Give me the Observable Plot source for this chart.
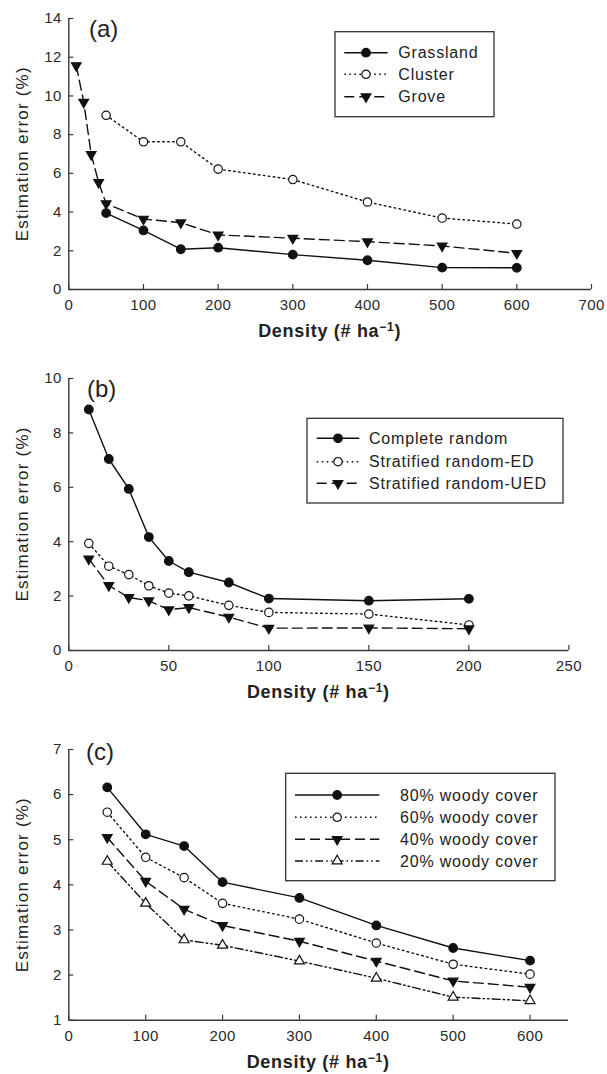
<!DOCTYPE html>
<html><head><meta charset="utf-8">
<script src="https://cdn.jsdelivr.net/npm/d3@7"></script>
<script src="https://cdn.jsdelivr.net/npm/@observablehq/plot@0.6"></script>
<style>
html,body{margin:0;padding:0;background:#fff;}
#fig{position:relative;width:607px;height:1074px;overflow:hidden;background:#fff;font-family:"Liberation Sans",Arial,Helvetica,sans-serif;}
#fig svg.panel{position:absolute;left:0;}
#overlay{position:absolute;left:0;top:0;}
</style></head><body><div id="fig"></div>
<script>
// ---------- data ----------
// Panel (a)
const densA = [50, 100, 150, 200, 300, 400, 500, 600];
const grassland = [3.95, 3.05, 2.08, 2.16, 1.80, 1.51, 1.13, 1.12];
const cluster = [9.0, 7.63, 7.63, 6.22, 5.68, 4.52, 3.69, 3.38];
const densGrove = [10, 20, 30, 40, 50, 100, 150, 200, 300, 400, 500, 600];
const grove = [11.57, 9.68, 6.98, 5.53, 4.44, 3.64, 3.45, 2.82, 2.65, 2.47, 2.25, 1.87];
const xTicksA = [0, 100, 200, 300, 400, 500, 600, 700];
const yTicksA = [0, 2, 4, 6, 8, 10, 12, 14];
const labelsA = ["Grassland", "Cluster", "Grove"];

// Panel (b)
const densB = [10, 20, 30, 40, 50, 60, 80, 100, 150, 200];
const completeRandom = [8.86, 7.04, 5.94, 4.17, 3.29, 2.88, 2.50, 1.91, 1.83, 1.90];
const stratifiedED = [3.94, 3.10, 2.79, 2.38, 2.11, 2.01, 1.66, 1.40, 1.34, 0.94];
const stratifiedUED = [3.37, 2.39, 1.95, 1.83, 1.50, 1.58, 1.23, 0.82, 0.83, 0.80];
const xTicksB = [0, 50, 100, 150, 200, 250];
const yTicksB = [0, 2, 4, 6, 8, 10];
const labelsB = ["Complete random", "Stratified random-ED", "Stratified random-UED"];

// Panel (c)
const densC = [50, 100, 150, 200, 300, 400, 500, 600];
const cover80 = [6.16, 5.12, 4.86, 4.06, 3.71, 3.10, 2.60, 2.32];
const cover60 = [5.61, 4.61, 4.16, 3.59, 3.24, 2.71, 2.24, 2.02];
const cover40 = [5.05, 4.08, 3.46, 3.10, 2.75, 2.31, 1.87, 1.73];
const cover20 = [4.52, 3.59, 2.78, 2.66, 2.31, 1.93, 1.51, 1.43];
const xTicksC = [0, 100, 200, 300, 400, 500, 600];
const yTicksC = [1, 2, 3, 4, 5, 6, 7];
const labelsC = ["80% woody cover", "60% woody cover", "40% woody cover", "20% woody cover"];

const yTitle = "Estimation error (%)";
const xTitleMain = "Density (# ha";
const xTitleSup = "\u22121";
const panelTags = ["(a)", "(b)", "(c)"];

// ---------- styling ----------
const INK = "#111";
const AX = "#3a3a3a";
const FONT = '"Liberation Sans", Arial, Helvetica, sans-serif';

const triDown = {draw(ctx, size) {
  const s = Math.sqrt(size * 4 / Math.sqrt(3)), h = s * Math.sqrt(3) / 2;
  ctx.moveTo(0, h * 2 / 3); ctx.lineTo(s / 2, -h / 3); ctx.lineTo(-s / 2, -h / 3); ctx.closePath();
}};
const triUp = {draw(ctx, size) {
  const s = Math.sqrt(size * 4 / Math.sqrt(3)), h = s * Math.sqrt(3) / 2;
  ctx.moveTo(0, -h * 2 / 3); ctx.lineTo(s / 2, h / 3); ctx.lineTo(-s / 2, h / 3); ctx.closePath();
}};

const STY = {
  solidDot: {dash: null, symbol: "circle", fill: INK, r: 4.3},
  dotOpen: {dash: "1.6,3.4", symbol: "circle", fill: "#fff", r: 4.2},
  dashTri: {dash: "10,5", symbol: triDown, fill: INK, r: 3.6},
  dashDotTri: {dash: "8,3,1.6,3,1.6,3", symbol: triUp, fill: "#fff", r: 3.7}
};

const fig = document.getElementById("fig");

function panel({series, xDomain, xTicks, yDomain, yTicks, plotTop, plotBottom, plotRight}) {
  const mt = 20, mb = 30, ml = 68.3;
  const plotH = plotBottom - plotTop, plotW = plotRight - ml;
  const marks = [];
  for (const s of series) {
    const rows = s.x.map((x, i) => ({x, y: s.y[i]}));
    marks.push(Plot.line(rows, {x: "x", y: "y", stroke: INK, strokeWidth: 1.4, strokeDasharray: s.st.dash}));
  }
  for (const s of series) {
    const rows = s.x.map((x, i) => ({x, y: s.y[i]}));
    marks.push(Plot.dot(rows, {x: "x", y: "y", symbol: s.st.symbol, r: s.st.r, fill: s.st.fill, stroke: INK, strokeWidth: 1.2}));
  }
  const svg = Plot.plot({
    width: 607, height: mt + plotH + mb,
    marginTop: mt, marginBottom: mb, marginLeft: ml, marginRight: 607 - plotRight,
    style: `font-family:${FONT};font-size:15px;letter-spacing:0.4px;color:#2a2a2a;background:transparent;overflow:visible;`,
    x: {domain: xDomain, label: null},
    y: {domain: yDomain, label: null},
    marks: [
      Plot.axisX(xTicks, {tickSize: 0, tickPadding: 10.3, label: null}),
      Plot.axisY(yTicks, {tickSize: 0, tickPadding: 7, label: null}),
      Plot.tickX(xTicks, {x: d => d, insetTop: plotH - 5, stroke: AX, strokeWidth: 1.2}),
      Plot.tickY(yTicks, {y: d => d, insetRight: plotW - 5, stroke: AX, strokeWidth: 1.2}),
      Plot.ruleX([xDomain[0]], {stroke: AX, strokeWidth: 1.4}),
      Plot.ruleY([yDomain[0]], {stroke: AX, strokeWidth: 1.4}),
      ...marks
    ]
  });
  svg.classList.add("panel");
  svg.style.position = "absolute";
  svg.style.top = (plotTop - mt) + "px";
  fig.appendChild(svg);
}

panel({
  series: [
    {x: densA, y: grassland, st: STY.solidDot},
    {x: densA, y: cluster, st: STY.dotOpen},
    {x: densGrove, y: grove, st: STY.dashTri}
  ],
  xDomain: [0, 700], xTicks: xTicksA, yDomain: [0, 14], yTicks: yTicksA,
  plotTop: 18.3, plotBottom: 289.3, plotRight: 591
});
panel({
  series: [
    {x: densB, y: completeRandom, st: STY.solidDot},
    {x: densB, y: stratifiedED, st: STY.dotOpen},
    {x: densB, y: stratifiedUED, st: STY.dashTri}
  ],
  xDomain: [0, 250], xTicks: xTicksB, yDomain: [0, 10], yTicks: yTicksB,
  plotTop: 378, plotBottom: 650, plotRight: 568.4
});
panel({
  series: [
    {x: densC, y: cover80, st: STY.solidDot},
    {x: densC, y: cover60, st: STY.dotOpen},
    {x: densC, y: cover40, st: STY.dashTri},
    {x: densC, y: cover20, st: STY.dashDotTri}
  ],
  xDomain: [0, 650], xTicks: xTicksC, yDomain: [1, 7], yTicks: yTicksC,
  plotTop: 749.3, plotBottom: 1020, plotRight: 568
});

// ---------- overlay: titles, tags, legends ----------
const ov = d3.select(fig).append("svg").attr("id", "overlay")
  .attr("width", 607).attr("height", 1074)
  .style("font-family", FONT);

const panelsGeom = [
  {top: 18.3, bottom: 289.3, right: 591, tagX: 89, tagY: 37},
  {top: 378, bottom: 650, right: 568.4, tagX: 87, tagY: 397},
  {top: 749.3, bottom: 1020, right: 568, tagX: 86, tagY: 760}
];
panelsGeom.forEach((g, i) => {
  const cy = (g.top + g.bottom) / 2;
  ov.append("text").attr("transform", `translate(22,${cy}) rotate(-90)`)
    .attr("text-anchor", "middle").attr("dy", "0.36em")
    .attr("font-size", 17).attr("letter-spacing", "1.2px").attr("fill", "#222")
    .text(yTitle);
  const t = ov.append("text").attr("x", (68.3 + g.right) / 2).attr("y", g.bottom + 48)
    .attr("text-anchor", "middle").attr("font-size", 18).attr("font-weight", "bold")
    .attr("letter-spacing", "0.7px").attr("fill", "#222");
  t.append("tspan").text(xTitleMain);
  t.append("tspan").attr("dy", -6).attr("font-size", 12).text(xTitleSup);
  t.append("tspan").attr("dy", 6).text(")");
  ov.append("text").attr("x", g.tagX).attr("y", g.tagY).attr("font-size", 24)
    .attr("fill", "#222").text(panelTags[i]);
});

function legend({box, rows, sx, textX, labels, styles}) {
  ov.append("rect").attr("x", box[0]).attr("y", box[1])
    .attr("width", box[2] - box[0]).attr("height", box[3] - box[1])
    .attr("fill", "#fff").attr("stroke", "#333").attr("stroke-width", 1.3);
  labels.forEach((lab, i) => {
    const y = rows[i], st = styles[i];
    ov.append("line").attr("x1", sx[0]).attr("x2", sx[1]).attr("y1", y).attr("y2", y)
      .attr("stroke", INK).attr("stroke-width", 1.4)
      .attr("stroke-dasharray", st.dash || null);
    const cx = (sx[0] + sx[1]) / 2;
    const type = st.symbol === "circle" ? d3.symbolCircle : st.symbol;
    ov.append("path").attr("transform", `translate(${cx},${y})`)
      .attr("d", d3.symbol().type(type).size(Math.PI * st.r * st.r)())
      .attr("fill", st.fill).attr("stroke", INK).attr("stroke-width", 1.2);
    ov.append("text").attr("x", textX).attr("y", y).attr("dy", "0.36em")
      .attr("font-size", 16).attr("letter-spacing", "0.8px").attr("fill", "#222").text(lab);
  });
}
legend({box: [335, 31.7, 494, 116.7], rows: [52.7, 74.3, 96.7], sx: [344.3, 387.7], textX: 398.3,
  labels: labelsA, styles: [STY.solidDot, STY.dotOpen, STY.dashTri]});
legend({box: [307, 418.3, 563, 503], rows: [438.3, 461.7, 483.3], sx: [316.7, 359.3], textX: 369,
  labels: labelsB, styles: [STY.solidDot, STY.dotOpen, STY.dashTri]});
legend({box: [285.7, 773.3, 555, 880.7], rows: [795, 817.3, 839.3, 861], sx: [295, 379.3], textX: 400,
  labels: labelsC, styles: [STY.solidDot, STY.dotOpen, STY.dashTri, STY.dashDotTri]});
</script></body></html>
